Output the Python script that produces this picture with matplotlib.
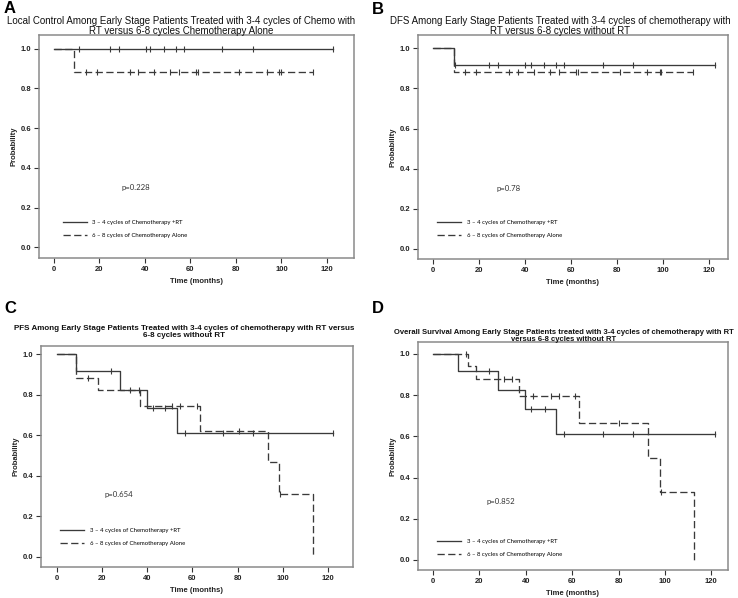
import numpy as np
import matplotlib.pyplot as plt
from matplotlib.lines import Line2D

# ---- data (months, survival probability) ----
# A: local control
a_rt_events = []
a_rt_surv = []
a_rt_cens = [11.1, 24.6, 28.6, 40.4, 42.2, 48.4, 53.6, 57.1, 73.8, 87.3]
a_rt_end = 122.8
a_ch_events = [8.9]
a_ch_surv = [0.882]
a_ch_cens = [14.1, 18.8, 33.4, 37.1, 44.1, 51.0, 55.1, 62.4, 63.2, 81.3, 93.5, 99.0, 99.6]
a_ch_end = 113.7

# B: DFS
b_rt_events = [9.0]
b_rt_surv = [0.917]
b_rt_cens = [9.4, 24.5, 28.3, 40.2, 42.6, 48.2, 53.5, 56.9, 74.0, 87.1]
b_rt_end = 122.5
b_ch_events = [9.0]
b_ch_surv = [0.882]
b_ch_cens = [14.1, 18.8, 33.0, 36.9, 43.8, 51.1, 55.0, 62.0, 63.0, 81.2, 92.9, 98.6, 99.3]
b_ch_end = 113.0

# C: PFS
c_rt_events = [8.5, 28.1, 40.0, 53.2]
c_rt_surv = [0.917, 0.825, 0.733, 0.611]
c_rt_cens = [24.0, 36.5, 42.7, 47.8, 56.6, 73.6, 86.8]
c_rt_end = 122.2
c_ch_events = [8.5, 18.3, 36.8, 63.2, 93.2, 98.3, 113.3]
c_ch_surv = [0.882, 0.822, 0.746, 0.622, 0.467, 0.311, 0.0]
c_ch_cens = [14.0, 32.4, 50.8, 54.5, 61.8, 80.6, 98.8]
c_ch_end = 113.3

# D: overall survival
d_rt_events = [10.7, 28.1, 39.8, 52.9]
d_rt_surv = [0.917, 0.826, 0.733, 0.611]
d_rt_cens = [24.0, 42.3, 48.1, 56.3, 73.2, 86.3]
d_rt_end = 121.6
d_ch_events = [15.2, 18.6, 37.0, 62.9, 92.8, 97.8, 112.7]
d_ch_surv = [0.941, 0.878, 0.796, 0.664, 0.497, 0.332, 0.0]
d_ch_cens = [14.0, 30.5, 34.0, 43.1, 50.9, 54.5, 61.3, 80.2, 98.2]
d_ch_end = 112.7

labels = ['3 \u2013 4 cycles of Chemotherapy +RT', '6 \u2013 8 cycles of Chemotherapy Alone']
pvals = ['p=0.228', 'p=0.78', 'p=0.654', 'p=0.852']

LINE = '#3a3a3a'
FRAME = '#8a8a8a'
DASH = (0, (5.5, 2.6))


def km(ax, events, surv, cens, end, ls):
    t = np.concatenate([[0.0], events, [end]])
    s = np.concatenate([[1.0], surv, [surv[-1] if len(surv) else 1.0]])
    ax.step(t, s, where='post', color=LINE, lw=0.95, ls=ls)
    c = list(cens)
    if s[-1] > 0:
        c.append(end)
    c = np.array(c)
    lev = np.concatenate([[1.0], surv])[np.searchsorted(events, c, side='right')]
    ax.plot(c, lev, ls='none', marker='|', ms=4.2, mew=0.8, color=LINE)


def setup(ax, xlim, ylim, pv, pxy, leg_xy):
    ax.set_xlim(*xlim)
    ax.set_ylim(*ylim)
    ax.set_xticks(np.arange(0, 121, 20))
    ax.set_yticks(np.arange(0, 1.01, 0.2))
    ax.set_yticklabels(['%.1f' % v for v in np.arange(0, 1.01, 0.2)])
    for sp in ax.spines.values():
        sp.set_color(FRAME)
        sp.set_linewidth(1.1)
    ax.tick_params(length=3.5, width=0.8, color='#333333', pad=2, labelsize=5.5)
    for lb in ax.get_xticklabels() + ax.get_yticklabels():
        lb.set_fontweight('bold')
        lb.set_color('#222222')
    ax.set_xlabel('Time (months)', fontsize=5.5, fontweight='bold', labelpad=4, color='#222222')
    ax.set_ylabel('Probability', fontsize=5.5, fontweight='bold', labelpad=2, color='#222222')
    ax.text(pxy[0], pxy[1], pv, fontsize=5.6, family='Lato', color='#333333', va='center')
    h = [Line2D([], [], color=LINE, lw=0.95),
         Line2D([], [], color=LINE, lw=0.95, ls=DASH)]
    ax.legend(h, labels, loc='center left', bbox_to_anchor=leg_xy, frameon=False,
              prop={'family': 'Lato', 'size': 4.3}, handlelength=4.0, handletextpad=1.0,
              labelspacing=1.35, borderpad=0, borderaxespad=0)


plt.rcParams['font.family'] = ['Liberation Sans', 'DejaVu Sans']
fig = plt.figure(figsize=(7.38, 5.98), dpi=100)
W, H = 738.0, 598.0


def axes_px(l, t, r, b):
    return fig.add_axes([l / W, 1 - b / H, (r - l) / W, (b - t) / H])


axA = axes_px(39, 35, 354, 258)
km(axA, a_rt_events, a_rt_surv, a_rt_cens, a_rt_end, '-')
km(axA, a_ch_events, a_ch_surv, a_ch_cens, a_ch_end, DASH)
setup(axA, (-6.6, 131.9), (-0.054, 1.068), pvals[0], (29.5, 0.30), (0.075, 0.131))

axB = axes_px(418, 35, 728, 259)
km(axB, b_rt_events, b_rt_surv, b_rt_cens, b_rt_end, '-')
km(axB, b_ch_events, b_ch_surv, b_ch_cens, b_ch_end, DASH)
setup(axB, (-6.5, 128.3), (-0.051, 1.067), pvals[1], (27.6, 0.30), (0.062, 0.133))

axC = axes_px(41, 346, 353, 567)
km(axC, c_rt_events, c_rt_surv, c_rt_cens, c_rt_end, '-')
km(axC, c_ch_events, c_ch_surv, c_ch_cens, c_ch_end, DASH)
setup(axC, (-6.9, 130.9), (-0.051, 1.041), pvals[2], (21.0, 0.305), (0.062, 0.136))

axD = axes_px(418, 342, 728, 570)
km(axD, d_rt_events, d_rt_surv, d_rt_cens, d_rt_end, '-')
km(axD, d_ch_events, d_ch_surv, d_ch_cens, d_ch_end, DASH)
setup(axD, (-6.5, 127.2), (-0.049, 1.058), pvals[3], (23.0, 0.283), (0.062, 0.096))

# titles
fig.text(181 / W, 1 - 26 / H, 'Local Control Among Early Stage Patients Treated with 3-4 cycles of Chemo with\n'
         'RT versus 6-8 cycles Chemotherapy Alone', ha='center', va='center', fontsize=7.0,
         linespacing=1.05, color='#111111')
fig.text(560 / W, 1 - 26 / H, 'DFS Among Early Stage Patients Treated with 3-4 cycles of chemotherapy with\n'
         'RT versus 6-8 cycles without RT', ha='center', va='center', fontsize=7.0,
         linespacing=1.0, color='#111111')
fig.text(184 / W, 1 - 332 / H, 'PFS Among Early Stage Patients Treated with 3-4 cycles of chemotherapy with RT versus\n'
         '6-8 cycles without RT', ha='center', va='center', fontsize=5.8, fontweight='bold',
         linespacing=1.05, color='#111111')
fig.text(564 / W, 1 - 336 / H, 'Overall Survival Among Early Stage Patients treated with 3-4 cycles of chemotherapy with RT\n'
         'versus 6-8 cycles without RT', ha='center', va='center', fontsize=5.5, fontweight='bold',
         linespacing=1.05, color='#111111')

# panel letters
for lt, x, y in [('A', 4, 1), ('B', 372, 2), ('C', 4, 301), ('D', 372, 301)]:
    fig.text(x / W, 1 - y / H, lt, ha='left', va='top', fontsize=12, fontweight='bold', color='black')

fig.savefig('out.png', dpi=100)
